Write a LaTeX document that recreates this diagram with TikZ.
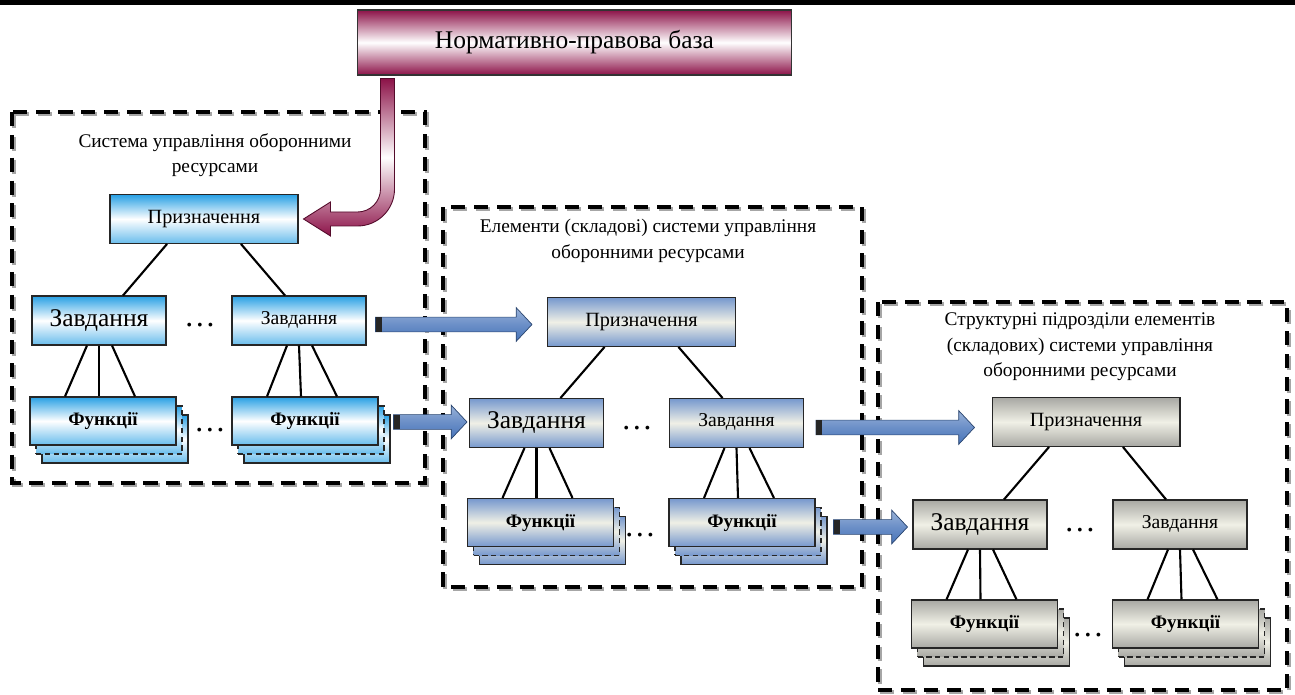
\documentclass[tikz,border=0pt]{standalone}
\usepackage{fontspec}
\setmainfont{Liberation Serif}
\usetikzlibrary{calc}

\definecolor{plumred}{RGB}{140,18,72}
\definecolor{skyblue}{RGB}{40,160,228}
\definecolor{steelb}{RGB}{118,152,206}
\definecolor{ivory}{RGB}{240,240,230}
\definecolor{boxgray}{RGB}{168,168,163}
\definecolor{arrblue}{RGB}{70,115,185}

% fat horizontal arrow with a dark tail cap
\newcommand\fatarrow[2]{%
  \shadedraw[draw=arrblue!60!black, line width=0.4pt, top color=arrblue!55, bottom color=arrblue, middle color=arrblue!80]
    let \p1=#1, \p2=#2 in
    (\x1,\y1+4.2pt) -- (\x2-9pt,\y1+4.2pt) -- (\x2-9pt,\y1+9.6pt) -- (\x2,\y1)
    -- (\x2-9pt,\y1-9.6pt) -- (\x2-9pt,\y1-4.2pt) -- (\x1,\y1-4.2pt) -- cycle;
  \fill[black!85] let \p1=#1 in (\x1,\y1-4.2pt) rectangle ++(3.5pt,8.4pt);}

% three stacked "functions" sheets
\newcommand\funcstack[3]{%
  \node[funbox,#1] at ($#3+(12,18)$) {};
  \node[funbox,#1,dash pattern=on 3pt off 2pt] at ($#3+(6,9)$) {};
  \node[funbox,#1] (#2) at #3 {\raisebox{2pt}{Функції}};}

\begin{document}
\begin{tikzpicture}[x=0.02cm, y=-0.02cm]
  \tikzstyle{frame}=[line width=2.4pt, dash pattern=on 8pt off 5pt]
  \tikzstyle{blu}=[top color=skyblue, bottom color=skyblue!70, middle color=white]
  \tikzstyle{stl}=[top color=steelb, bottom color=steelb, middle color=ivory]
  \tikzstyle{gry}=[top color=boxgray, bottom color=boxgray, middle color=ivory]
  \tikzstyle{prbox}=[draw=black!85, line width=0.6pt, minimum width=3.76cm, minimum height=0.98cm, font=\fontsize{11.5}{13}\selectfont]
  \tikzstyle{zbox}=[draw=black!85, line width=0.6pt, minimum width=2.68cm, minimum height=0.98cm]
  \tikzstyle{funbox}=[draw=black!85, line width=0.6pt, minimum width=2.92cm, minimum height=0.96cm, font=\bfseries\fontsize{10.8}{13}\selectfont]
  \tikzstyle{zbig}=[font=\fontsize{14.5}{16}\selectfont]
  \tikzstyle{zsmall}=[font=\fontsize{11.2}{13}\selectfont]
  \tikzstyle{ttl}=[align=center, font=\fontsize{11}{14.5}\selectfont]
  \tikzstyle{dots}=[font=\fontsize{18}{20}\selectfont]
  \tikzstyle{link}=[line width=1.2pt]

  \useasboundingbox (0,0) rectangle (1295,695);
  \draw[line width=2.8pt] (0,2.5) -- (1295,2.5);

  % dashed frames
  \foreach \xa/\ya/\xb/\yb in {12/112/425/483, 443/207/862/587, 878/302/1287/690} {
    \draw[frame, black!35] (\xa+2,\ya+2) rectangle (\xb+2,\yb+2);
    \draw[frame] (\xa,\ya) rectangle (\xb,\yb);
  }

  \node[draw=black!80, line width=0.6pt, top color=plumred, bottom color=plumred, middle color=white, minimum width=8.7cm, minimum height=1.3cm, font=\fontsize{14.5}{16}\selectfont] (norm) at (574.5,42.5) {Нормативно-правова база};

  % left system
  \node[ttl] (lttl) at (215,155) {Система управління оборонними\\ресурсами};
  \node[prbox, blu] (lpr) at (204,219) {Призначення};
  \node[zbox, blu, zbig] (lz1) at (99,320.5) {Завдання};
  \node[zbox, blu, zsmall] (lz2) at (299,320.5) {\raisebox{3pt}{Завдання}};
  \node[dots] (ldz) at (200,325) {\ldots};
  \funcstack{blu}{lf1}{(103,421)}
  \funcstack{blu}{lf2}{(305,421)}
  \node[dots] (ldf) at (210,430) {\ldots};

  % middle system
  \node[ttl] (mttl) at (648,241) {Елементи (складові) системи управління\\оборонними ресурсами};
  \node[prbox, stl] (mpr) at (641.5,322) {Призначення};
  \node[zbox, stl, zbig] (mz1) at (536.5,423) {Завдання};
  \node[zbox, stl, zsmall] (mz2) at (736.5,423) {\raisebox{3pt}{Завдання}};
  \node[dots] (mdz) at (637,428) {\ldots};
  \funcstack{stl}{mf1}{(540.5,522.5)}
  \funcstack{stl}{mf2}{(742,522.5)}
  \node[dots] (mdf) at (640,535) {\ldots};

  % right system
  \node[ttl] (rttl) at (1080,347) {Структурні підрозділи елементів\\(складових) системи управління\\оборонними ресурсами};
  \node[prbox, gry] (rpr) at (1086,422) {Призначення};
  \node[zbox, gry, zbig] (rz1) at (980,524.5) {Завдання};
  \node[zbox, gry, zsmall] (rz2) at (1180,524.5) {\raisebox{3pt}{Завдання}};
  \node[dots] (rdz) at (1080,530) {\ldots};
  \funcstack{gry}{rf1}{(984.5,624)}
  \funcstack{gry}{rf2}{(1185.5,624)}
  \node[dots] (rdf) at (1088,635) {\ldots};

  % tree links
  \foreach \p/\za/\zb in {lpr/lz1/lz2, mpr/mz1/mz2, rpr/rz1/rz2} {
    \draw[link] ($(\p.south)+(-37,0)$) -- ($(\za.north)+(24,0)$);
    \draw[link] ($(\p.south)+(37,0)$) -- ($(\zb.north)+(-14,0)$);
  }
  \foreach \z/\f in {lz1/lf1, lz2/lf2, mz1/mf1, mz2/mf2, rz1/rf1, rz2/rf2}
    \foreach \a/\b in {-12/-38, 0/-4, 13/32}
      \draw[link] ($(\z.south)+(\a,0)$) -- ($(\f.north)+(\b,0)$);

  % bent arrow from the legal base
  \coordinate (cs) at ($(norm.south west)+(31,3)$);
  \coordinate (ce) at ($(lpr.east)+(5,0)$);
  \coordinate (ck) at (cs |- ce);
  \shadedraw[draw=plumred!60!black, line width=0.5pt, top color=plumred, bottom color=plumred, middle color=white]
    ($(cs)+(7,0)$) -- ($(ck)+(7,-30)$) arc[start angle=0, end angle=90, radius=37]
    -- ($(ce)+(27,7)$) -- ($(ce)+(27,17)$) -- (ce) -- ($(ce)+(27,-17)$) -- ($(ce)+(27,-7)$)
    -- ($(ck)+(-30,-7)$) arc[start angle=90, end angle=0, radius=23] -- ($(cs)+(-7,0)$) -- cycle;

  % fat arrows between the levels
  \fatarrow{($(lz2.east)+(9,4)$)}{($(mpr.west)+(-15,0)$)}
  \fatarrow{($(lf2.east)+(15,1)$)}{($(mz1.west)+(-2,0)$)}
  \fatarrow{($(mz2.east)+(12,4.5)$)}{($(rpr.west)+(-17,0)$)}
  \fatarrow{($(mf2.east)+(18,4.5)$)}{($(rz1.west)+(-5,0)$)}
\end{tikzpicture}
\end{document}
